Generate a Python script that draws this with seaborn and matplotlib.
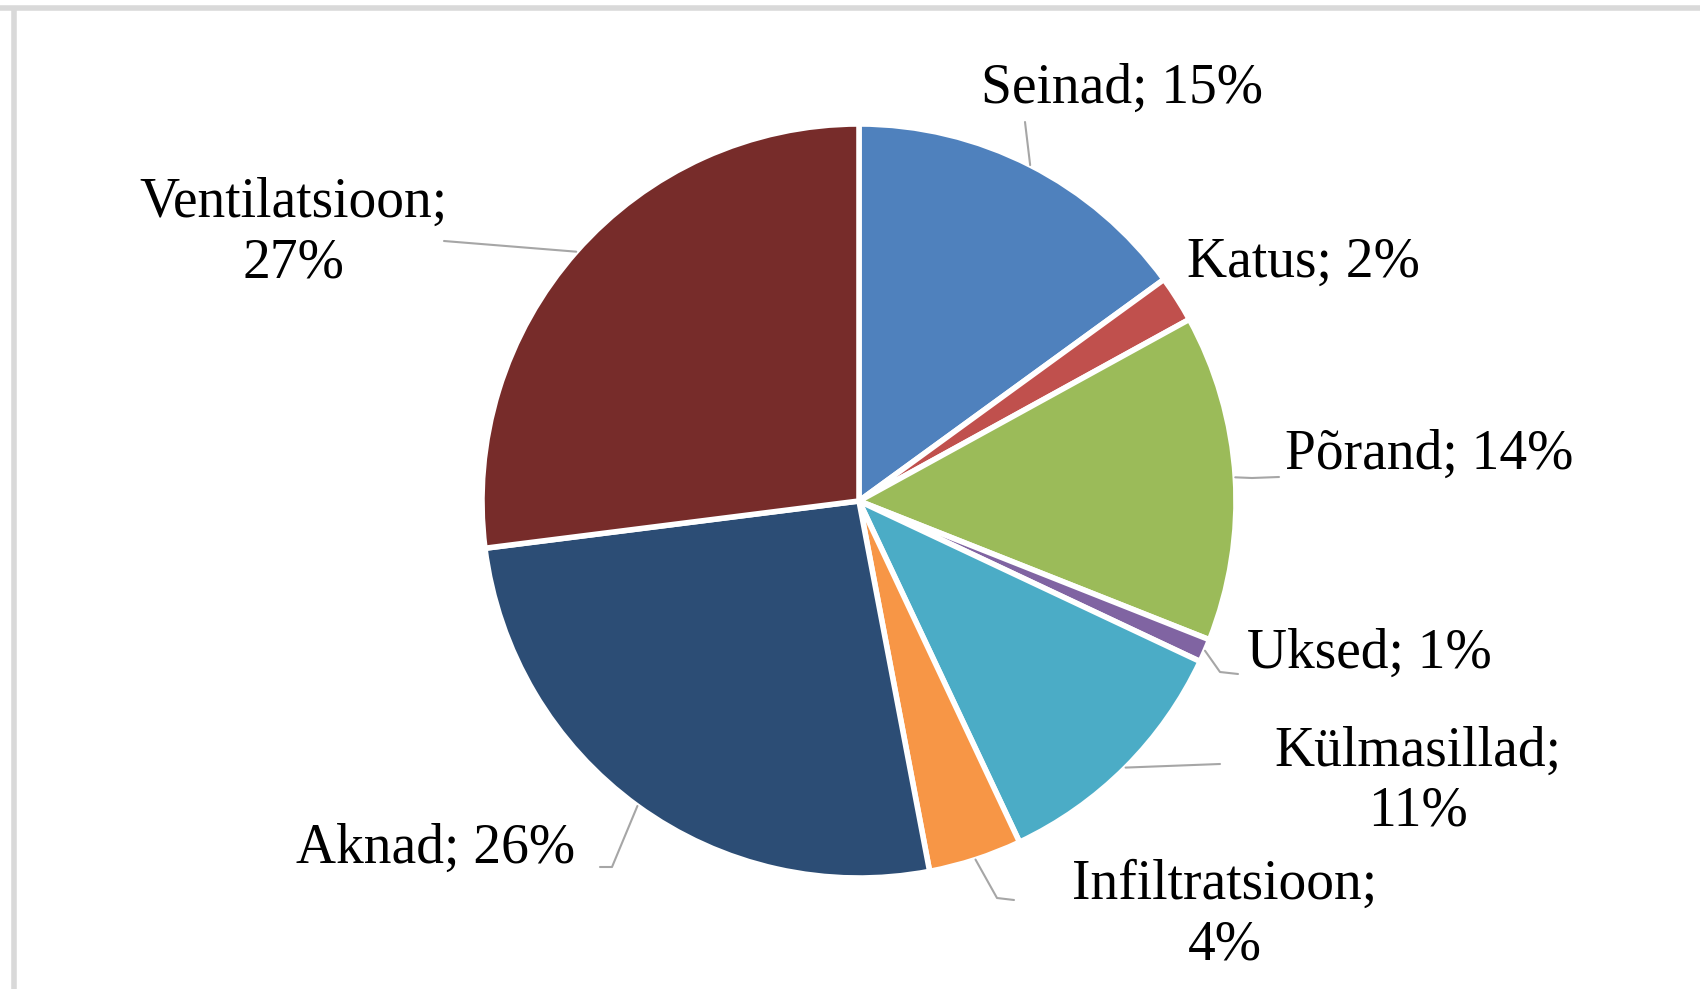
import numpy as np
import matplotlib
matplotlib.use("Agg")
import matplotlib.pyplot as plt
import seaborn as sns

categories = ["Seinad", "Katus", "Põrand", "Uksed", "Külmasillad",
              "Infiltratsioon", "Aknad", "Ventilatsioon"]
shares = [15, 2, 14, 1, 11, 4, 26, 27]
colors = ["#4F81BD", "#C0504D", "#9BBB59", "#8064A2", "#4BACC6",
          "#F79646", "#2C4D75", "#772C2A"]

sns.set_theme(style="white")
plt.rcParams["font.family"] = ["Liberation Serif", "DejaVu Serif"]

W, H = 1700, 989
fig = plt.figure(figsize=(W / 100, H / 100), dpi=100)
ax = fig.add_axes([0, 0, 1, 1])

cx, cy, r = 859, 501, 377
palette = sns.color_palette(colors)
# y axis is inverted below (pixel frame), so counterclock in data = clockwise on screen
wedges, _ = ax.pie(shares, colors=palette, startangle=-90, counterclock=True,
                   center=(cx, cy), radius=r, frame=True,
                   wedgeprops=dict(edgecolor="white", linewidth=4))
ax.set_xlim(0, W)
ax.set_ylim(H, 0)
ax.axis("off")

# label layout: text anchor, alignment, leader points after the wedge edge
layout = {
    "Seinad": dict(xy=(1122, 89), ha="center", two=False, lead=[(1025, 122)]),
    "Katus": dict(xy=(1187, 263), ha="left", two=False, lead=[]),
    "Põrand": dict(xy=(1285, 455), ha="left", two=False, lead=[(1252, 478), (1279, 477)]),
    "Uksed": dict(xy=(1247, 654), ha="left", two=False, lead=[(1220, 672), (1238, 674)]),
    "Külmasillad": dict(xy=(1418, 782), ha="center", two=True, lead=[(1220, 764)]),
    "Infiltratsioon": dict(xy=(1225, 915), ha="center", two=True, lead=[(997, 898), (1014, 900)]),
    "Aknad": dict(xy=(575, 849), ha="right", two=False, lead=[(612, 867), (600, 867)]),
    "Ventilatsioon": dict(xy=(293, 233), ha="center", two=True, lead=[(444, 241)]),
}

cum = np.cumsum([0] + shares)
total = sum(shares)
for i, (cat, val) in enumerate(zip(categories, shares)):
    mid = (cum[i] + cum[i + 1]) / 2 / total
    ang = np.deg2rad(90 - 360 * mid)
    ex, ey = cx + r * np.cos(ang), cy - r * np.sin(ang)
    lay = layout[cat]
    if lay["lead"]:
        pts = [(ex, ey)] + lay["lead"]
        ax.plot([p[0] for p in pts], [p[1] for p in pts], color="#A6A6A6", lw=1.5)
    sep = "\n" if lay["two"] else " "
    ax.text(lay["xy"][0], lay["xy"][1], f"{cat};{sep}{val}%", ha=lay["ha"],
            va="center", fontsize=40, color="black", linespacing=1.2,
            multialignment="center")

# light grey frame edge (top and left, as in the screenshot)
ax.plot([0, W], [8, 8], color="#D9D9D9", lw=4, solid_capstyle="butt")
ax.plot([14, 14], [8, H], color="#D9D9D9", lw=4, solid_capstyle="butt")

fig.savefig("out.png", dpi=100)
